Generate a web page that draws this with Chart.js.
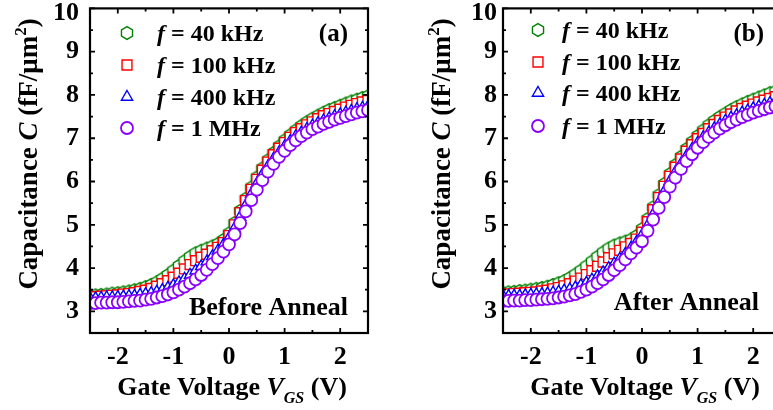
<!DOCTYPE html>
<html>
<head>
<meta charset="utf-8">
<script src="https://cdn.jsdelivr.net/npm/chart.js@4.4.1/dist/chart.umd.min.js"></script>
<style>
    html, body { margin: 0; padding: 0; background: #fff; overflow: hidden; }
    #wrap { position: relative; width: 773px; height: 410px; overflow: hidden; }
    canvas { position: absolute; top: 0; }
    #panelA { left: 0; }
    #panelB { left: 413px; }
</style>
</head>
<body>
<div id="wrap">
    <canvas id="panelA" width="390" height="410"></canvas>
    <canvas id="panelB" width="390" height="410"></canvas>
</div>
<script>
// gate voltage sweep (V)
const vgs = [-2.5, -2.4, -2.3, -2.2, -2.1, -2.0, -1.9, -1.8, -1.7, -1.6, -1.5, -1.4, -1.3, -1.2, -1.1, -1.0,
    -0.9, -0.8, -0.7, -0.6, -0.5, -0.4, -0.3, -0.2, -0.1, 0.0, 0.1, 0.2, 0.3, 0.4, 0.5, 0.6, 0.7, 0.8, 0.9, 1.0,
    1.1, 1.2, 1.3, 1.4, 1.5, 1.6, 1.7, 1.8, 1.9, 2.0, 2.1, 2.2, 2.3, 2.4, 2.5];

// (a) before anneal, capacitance in fF/um^2
const before40k = [3.36, 3.37, 3.38, 3.39, 3.41, 3.42, 3.44, 3.46, 3.49, 3.52, 3.56, 3.61, 3.67, 3.75, 3.84, 3.94,
    4.05, 4.16, 4.26, 4.34, 4.40, 4.45, 4.50, 4.56, 4.65, 4.80, 5.04, 5.32, 5.60, 5.86, 6.09, 6.30, 6.49, 6.66, 6.81, 6.95,
    7.07, 7.18, 7.28, 7.37, 7.45, 7.52, 7.59, 7.65, 7.70, 7.75, 7.80, 7.85, 7.89, 7.93, 7.97];
const before100k = [3.33, 3.34, 3.35, 3.36, 3.37, 3.38, 3.40, 3.41, 3.43, 3.46, 3.49, 3.53, 3.58, 3.64, 3.71, 3.79,
    3.88, 3.98, 4.08, 4.17, 4.25, 4.32, 4.40, 4.48, 4.59, 4.75, 5.00, 5.28, 5.56, 5.82, 6.05, 6.26, 6.45, 6.62, 6.77, 6.90,
    7.02, 7.13, 7.22, 7.31, 7.38, 7.45, 7.52, 7.57, 7.62, 7.67, 7.72, 7.76, 7.80, 7.84, 7.87];
const before400k = [3.30, 3.30, 3.31, 3.32, 3.32, 3.33, 3.34, 3.35, 3.36, 3.38, 3.40, 3.42, 3.45, 3.49, 3.54, 3.60,
    3.67, 3.75, 3.84, 3.94, 4.04, 4.15, 4.27, 4.40, 4.54, 4.70, 4.92, 5.18, 5.45, 5.71, 5.95, 6.16, 6.35, 6.52, 6.67, 6.81,
    6.93, 7.04, 7.13, 7.21, 7.29, 7.35, 7.41, 7.46, 7.51, 7.55, 7.59, 7.63, 7.67, 7.70, 7.73];
const before1M = [3.19, 3.19, 3.20, 3.20, 3.21, 3.21, 3.22, 3.23, 3.24, 3.25, 3.27, 3.29, 3.32, 3.35, 3.39, 3.44,
    3.50, 3.57, 3.65, 3.74, 3.84, 3.96, 4.09, 4.23, 4.38, 4.55, 4.78, 5.04, 5.31, 5.57, 5.81, 6.03, 6.23, 6.41, 6.57, 6.71,
    6.84, 6.95, 7.05, 7.13, 7.21, 7.27, 7.33, 7.38, 7.43, 7.47, 7.51, 7.55, 7.59, 7.62, 7.65];

// (b) after anneal
const after40k = [3.43, 3.44, 3.45, 3.47, 3.48, 3.50, 3.52, 3.54, 3.57, 3.61, 3.65, 3.70, 3.77, 3.85, 3.94, 4.04,
    4.15, 4.26, 4.36, 4.45, 4.52, 4.57, 4.61, 4.66, 4.74, 4.90, 5.13, 5.40, 5.68, 5.94, 6.17, 6.38, 6.57, 6.75, 6.91, 7.05,
    7.18, 7.30, 7.40, 7.49, 7.57, 7.65, 7.72, 7.78, 7.84, 7.89, 7.94, 7.99, 8.04, 8.08, 8.12];
const after100k = [3.40, 3.40, 3.41, 3.42, 3.43, 3.44, 3.45, 3.47, 3.49, 3.52, 3.55, 3.59, 3.64, 3.70, 3.77, 3.85,
    3.94, 4.04, 4.14, 4.24, 4.33, 4.41, 4.49, 4.57, 4.67, 4.83, 5.07, 5.35, 5.63, 5.89, 6.12, 6.33, 6.52, 6.70, 6.85, 6.99,
    7.11, 7.22, 7.32, 7.41, 7.49, 7.56, 7.63, 7.69, 7.74, 7.79, 7.84, 7.88, 7.92, 7.96, 8.00];
const after400k = [3.35, 3.35, 3.36, 3.36, 3.37, 3.38, 3.39, 3.40, 3.41, 3.43, 3.45, 3.48, 3.51, 3.55, 3.60, 3.66,
    3.73, 3.81, 3.90, 4.00, 4.10, 4.21, 4.33, 4.46, 4.60, 4.76, 4.98, 5.24, 5.51, 5.77, 6.01, 6.22, 6.41, 6.59, 6.75, 6.89,
    7.02, 7.13, 7.23, 7.32, 7.40, 7.47, 7.53, 7.59, 7.64, 7.69, 7.73, 7.77, 7.81, 7.85, 7.88];
const after1M = [3.24, 3.24, 3.25, 3.25, 3.26, 3.26, 3.27, 3.28, 3.29, 3.30, 3.32, 3.34, 3.37, 3.40, 3.45, 3.50,
    3.57, 3.65, 3.74, 3.84, 3.95, 4.07, 4.20, 4.34, 4.47, 4.62, 4.86, 5.12, 5.39, 5.64, 5.88, 6.09, 6.29, 6.47, 6.63, 6.78,
    6.91, 7.03, 7.13, 7.22, 7.30, 7.37, 7.43, 7.49, 7.54, 7.59, 7.63, 7.67, 7.71, 7.74, 7.77];

const seriesNames = ['40 kHz', '100 kHz', '400 kHz', '1 MHz'];
const xTickValues = [-2, -1, 0, 1, 2];
const xMinorTicks = [-1.5, -0.5, 0.5, 1.5];
const yTickValues = [3, 4, 5, 6, 7, 8, 9, 10];
const yMinorTicks = [3.5, 4.5, 5.5, 6.5, 7.5, 8.5, 9.5];

const SERIF = '"Liberation Serif", "Times New Roman", serif';
const GREEN = '#008000';
const RED = '#ff0000';
const BLUE = '#0000ff';
const PURPLE = '#8a00ff';

// hexagon marker (no built-in point style for it)
function makeHexagon(color) {
    const c = document.createElement('canvas');
    c.width = 16;
    c.height = 16;
    const g = c.getContext('2d');
    g.beginPath();
    for (let k = 0; k < 6; k++) {
        const ang = -Math.PI / 2 + k * Math.PI / 3;
        const px = 8 + 6.4 * Math.cos(ang);
        const py = 8 + 6.4 * Math.sin(ang);
        if (k === 0) g.moveTo(px, py); else g.lineTo(px, py);
    }
    g.closePath();
    g.fillStyle = '#fff';
    g.fill();
    g.strokeStyle = color;
    g.lineWidth = 1.4;
    g.stroke();
    return c;
}
const hexMarker = makeHexagon(GREEN);

const markerStyles = [
    { color: GREEN, pointStyle: hexMarker, radius: 6, borderWidth: 1.4, order: 4 },
    { color: RED, pointStyle: 'rect', radius: 7, borderWidth: 1.4, order: 3 },
    { color: BLUE, pointStyle: 'triangle', radius: 6.5, borderWidth: 1.4, order: 2 },
    { color: PURPLE, pointStyle: 'circle', radius: 6, borderWidth: 1.8, order: 1 }
];

// mixed-style text: parts are [text, style], style '' | 'i' | 'isub' | 'sup'
function drawRich(ctx, parts, x, y, size, align) {
    let total = 0;
    const runs = parts.map(([text, style]) => {
        const small = style === 'isub' || style === 'sup';
        const fs = small ? Math.round(size * 0.62) : size;
        const font = (style.startsWith('i') ? 'italic ' : '') + 'bold ' + fs + 'px ' + SERIF;
        ctx.font = font;
        const w = ctx.measureText(text).width;
        total += w;
        let dy = 0;
        if (style === 'isub') dy = size * 0.3;
        if (style === 'sup') dy = -size * 0.42;
        return { text, font, w, dy };
    });
    let cx = x;
    if (align === 'center') cx = x - total / 2;
    if (align === 'right') cx = x - total;
    ctx.textAlign = 'left';
    ctx.textBaseline = 'alphabetic';
    runs.forEach(r => {
        ctx.font = r.font;
        ctx.fillText(r.text, cx, y + r.dy);
        cx += r.w;
    });
}

function panelPlugin(cfg) {
    return {
        id: 'panelDecor',
        afterDatasetsDraw(chart) {
            const { ctx, chartArea: a, scales: { x, y } } = chart;
            ctx.save();
            ctx.strokeStyle = '#000';
            ctx.lineWidth = 2.2;
            ctx.strokeRect(a.left, a.top, a.right - a.left, a.bottom - a.top);

            // inward ticks on all four sides
            ctx.lineWidth = 1.8;
            ctx.beginPath();
            const xt = (vals, len) => vals.forEach(v => {
                const px = x.getPixelForValue(v);
                ctx.moveTo(px, a.bottom); ctx.lineTo(px, a.bottom - len);
                ctx.moveTo(px, a.top); ctx.lineTo(px, a.top + len);
            });
            const yt = (vals, len) => vals.forEach(v => {
                const py = y.getPixelForValue(v);
                ctx.moveTo(a.left, py); ctx.lineTo(a.left + len, py);
                ctx.moveTo(a.right, py); ctx.lineTo(a.right - len, py);
            });
            xt(xTickValues, 5);
            xt(xMinorTicks, 3);
            yt(yTickValues, 5);
            yt(yMinorTicks, 3);
            ctx.stroke();
            ctx.restore();
        },
        afterDraw(chart) {
            const { ctx, chartArea: a, scales: { x, y } } = chart;
            ctx.save();
            ctx.fillStyle = '#000';

            // tick labels
            ctx.font = 'bold 26px ' + SERIF;
            ctx.textAlign = 'center';
            ctx.textBaseline = 'alphabetic';
            xTickValues.forEach(v => ctx.fillText(String(v), x.getPixelForValue(v), 364));
            ctx.textAlign = 'right';
            ctx.textBaseline = 'middle';
            yTickValues.forEach(v => {
                const py = Math.max(y.getPixelForValue(v), 13);
                ctx.fillText(String(v), a.left - cfg.labelGap, py);
            });

            // axis titles
            drawRich(ctx, [['Gate Voltage ', ''], ['V', 'i'], ['GS', 'isub'], [' (V)', '']],
                x.getPixelForValue(0) + 3, 395, 26, 'center');
            ctx.save();
            ctx.translate(37, 154);
            ctx.rotate(-Math.PI / 2);
            drawRich(ctx, [['Capacitance ', ''], ['C', 'i'], [' (fF/\u03bcm', ''], ['2', 'sup'], [')', '']],
                0, 0, 27, 'center');
            ctx.restore();

            // legend
            cfg.legendY.forEach((ly, i) => {
                const m = markerStyles[i];
                ctx.fillStyle = '#fff';
                ctx.strokeStyle = m.color;
                ctx.lineWidth = m.borderWidth;
                Chart.helpers.drawPoint(ctx, {
                    pointStyle: m.pointStyle, radius: m.radius, rotation: 0, borderWidth: m.borderWidth
                }, a.left + cfg.markerDx, ly);
                ctx.fillStyle = '#000';
                drawRich(ctx, [['f', 'i'], [' = ' + seriesNames[i], '']], a.left + cfg.textDx, ly + 8, 24, 'left');
            });

            // panel tag and annotation
            ctx.font = 'bold 25px ' + SERIF;
            ctx.textAlign = 'right';
            ctx.textBaseline = 'alphabetic';
            ctx.fillText(cfg.tag, a.right - cfg.tagDx, 41);
            ctx.font = 'bold 26px ' + SERIF;
            ctx.fillText(cfg.note, a.right - cfg.noteDx, cfg.noteY);
            ctx.restore();
        }
    };
}

function makePanel(id, values, cfg) {
    const datasets = values.map((vals, i) => {
        const m = markerStyles[i];
        return {
            label: 'f = ' + seriesNames[i],
            data: vgs.map((v, j) => ({ x: v, y: vals[j] })),
            showLine: false,
            pointStyle: m.pointStyle,
            pointRadius: m.radius,
            pointBorderWidth: m.borderWidth,
            pointBorderColor: m.color,
            pointBackgroundColor: '#fff',
            order: m.order,
            clip: 0
        };
    });

    return new Chart(document.getElementById(id), {
        type: 'scatter',
        data: { datasets },
        options: {
            responsive: false,
            animation: false,
            events: [],
            layout: { padding: { left: 0, top: 5, right: 22, bottom: 0 } },
            plugins: {
                legend: { display: false },
                tooltip: { enabled: false }
            },
            scales: {
                x: {
                    type: 'linear',
                    min: -2.5,
                    max: 2.5,
                    grid: { display: false },
                    border: { display: false },
                    ticks: { display: false },
                    afterFit: s => { s.height = 77; s.paddingLeft = 0; s.paddingRight = 0; }
                },
                y: {
                    type: 'linear',
                    min: 2.5,
                    max: 10,
                    grid: { display: false },
                    border: { display: false },
                    ticks: { display: false },
                    afterFit: s => { s.width = 90; s.paddingTop = 0; s.paddingBottom = 0; }
                }
            }
        },
        plugins: [panelPlugin(cfg)]
    });
}

makePanel('panelA', [before40k, before100k, before400k, before1M], {
    tag: '(a)', note: 'Before Anneal', labelGap: 11, markerDx: 37, textDx: 67,
    legendY: [33, 65, 97, 128], tagDx: 20, noteDx: 20, noteY: 315
});
makePanel('panelB', [after40k, after100k, after400k, after1M], {
    tag: '(b)', note: 'After Anneal', labelGap: 6, markerDx: 35, textDx: 59,
    legendY: [30, 62, 93, 126], tagDx: 17, noteDx: 22, noteY: 310
});
</script>
</body>
</html>
